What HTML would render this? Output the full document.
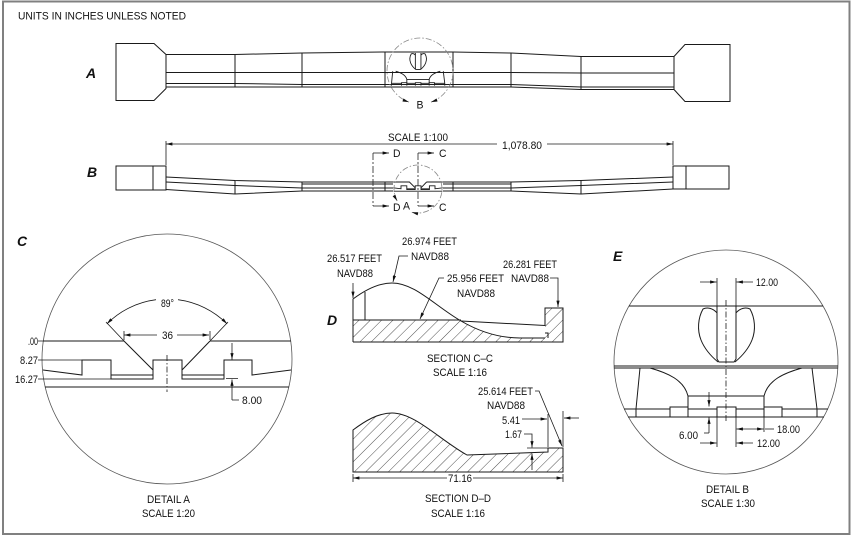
<!DOCTYPE html>
<html><head><meta charset="utf-8"><style>
html,body{margin:0;padding:0;background:#fff;}
svg{display:block;}
text{font-family:"Liberation Sans","Liberation Sans Narrow",sans-serif;font-size:11px;fill:#111;}
.lbl{font-weight:bold;font-style:italic;font-size:14px;}
</style></head><body>
<svg width="852" height="537" viewBox="0 0 852 537" xmlns="http://www.w3.org/2000/svg">
<defs>
<marker id="ah" viewBox="0 0 8 4" refX="8" refY="2" markerWidth="7" markerHeight="3.2" markerUnits="userSpaceOnUse" orient="auto-start-reverse"><path d="M0,0L8,2L0,4z" fill="#111"/></marker>
<pattern id="hatch" width="8" height="8" patternUnits="userSpaceOnUse" patternTransform="rotate(45)"><line x1="0" y1="0" x2="0" y2="8" stroke="#222" stroke-width="0.8"/></pattern>
<g id="dbi" fill="none">
 <path d="M717,306 L717,359 L719,362 L734,362 L736,359 L736,306"/>
 <path d="M717,313 C713,308 707,307 703,309 C698,318 697,330 701,340 C705,350 712,357 718,362"/>
 <path d="M736,313 C740,308 746,307 750,309 C755,318 756,330 752,340 C748,350 741,357 735,362"/>
 <path d="M640,368 L636,409 L636,417"/>
 <path d="M812,368 L817,409 L817,417"/>
 <path d="M650,368 C668,373 684,380 688,396 L688,409"/>
 <path d="M802,368 C784,373 768,380 764,396 L764,409"/>
 <path d="M688,396 L764,396"/>
 <path d="M670,417 V407 H688 V417 M717,417 V407 H736 V417 M764,417 V407 H782 V417"/>
 <path d="M636,409 H670 M688,409 H717 M736,409 H764 M782,409 H817"/>
</g>
<g id="dai" fill="none">
 <path d="M43,341 H124 L153,370 M210,341 H291 M210,341 L182,370"/>
 <path d="M43,370 L82,375 V360 H111 V379 H153 V360 H182 V379 H224 V360 H252 V375 L291,370"/>
 <path d="M111,375 H153 M182,375 H224"/>
 <path d="M45,387 H289"/>
</g>
</defs>

<!-- frame -->
<rect x="3" y="1.5" width="846.5" height="532.5" fill="none" stroke="#808080" stroke-width="2"/>

<text x="18" y="19.5" textLength="168" lengthAdjust="spacingAndGlyphs">UNITS IN INCHES UNLESS NOTED</text>

<!-- ================= VIEW A ================= -->
<text class="lbl" x="86" y="78">A</text>
<g fill="none" stroke="#1a1a1a" stroke-width="1">
 <path d="M116,43.5 L154,43.5 L166,54.5 L166,88.5 L154,100.5 L116,100.5 Z"/>
 <path d="M674,56.5 L685,44.5 L730,44.5 L730,101.5 L685,101.5 L674,89.5 Z"/>
 <path d="M166,54.5 L235,54.5 L302,53 L385,52 L453,52 L511,53 L581,56.5 L674,56.5"/>
 <path d="M166,72.5 L235,72.5 L302,72.5 L511,72.5 L581,73 L674,73"/>
 <path d="M166,83.5 L235,83.5 L302,84.5 L511,84.5 L581,87 L674,87"/>
 <path d="M166,87 L235,87 L302,87 L511,87 L581,89.5 L674,89.5"/>
 <path d="M235,54.5 V87 M302,53 V87 M385,52 V87 M453,52 V87 M511,53 V87 M581,56.5 V89.5"/>
</g>
<use href="#dbi" transform="translate(418,53) scale(0.294) translate(-726,-306)" stroke="#1a1a1a" stroke-width="3"/>
<path d="M431,102.1 A33,33 0 1 0 409,102.1" fill="none" stroke="#888" stroke-width="0.8" stroke-dasharray="6 2 1.5 2" marker-start="url(#ah)" marker-end="url(#ah)"/>
<text x="416.5" y="108.5" textLength="7" lengthAdjust="spacingAndGlyphs">B</text>

<!-- ================= VIEW B ================= -->
<text class="lbl" x="87" y="177">B</text>
<text x="388" y="141" textLength="60" lengthAdjust="spacingAndGlyphs">SCALE 1:100</text>
<g fill="none" stroke="#1a1a1a" stroke-width="0.8">
 <path d="M166,141 V165 M673,141 V165"/>
 <path d="M166,144 H497" marker-start="url(#ah)"/>
 <path d="M547,144 H673" marker-end="url(#ah)"/>
</g>
<text x="502" y="149" textLength="40" lengthAdjust="spacingAndGlyphs">1,078.80</text>
<g fill="none" stroke="#1a1a1a" stroke-width="1">
 <rect x="116" y="166" width="50" height="24"/>
 <path d="M153,166 V190"/>
 <rect x="673" y="166" width="56" height="23"/>
 <path d="M686,166 V189"/>
 <path d="M166,177 L235,180.5 L302,182 L393,182 M443,182 L511,182 L581,180.5 L673,177"/>
 <path d="M166,182 L235,185.5 L302,188 L393,188 M443,188 L511,188 L581,185.5 L673,182"/>
 <path d="M302,184 L393,184 M443,184 L511,184"/>
 <path d="M166,189.5 L235,194 L302,191 L393,191 M443,191 L511,191 L581,194 L673,189"/>
 <path d="M235,180.5 V194 M302,182 V191 M385,182 V191 M453,182 V191 M511,182 V191 M581,180.5 V194"/>
</g>
<use href="#dai" transform="translate(418,182) scale(0.2) translate(-167,-341)" stroke="#1a1a1a" stroke-width="4.5"/>
<path d="M411.8,212.2 A24,24 0 1 0 397.2,201" fill="none" stroke="#888" stroke-width="0.8" stroke-dasharray="6 2 1.5 2" marker-start="url(#ah)" marker-end="url(#ah)"/>
<text x="403" y="209.5" textLength="7" lengthAdjust="spacingAndGlyphs">A</text>
<g fill="none" stroke="#222" stroke-width="0.8">
 <path d="M373,153 V206 M418,153 V206" stroke-dasharray="7 2 2 2"/>
 <path d="M373,153 H389" marker-end="url(#ah)"/>
 <path d="M373,206 H389" marker-end="url(#ah)"/>
 <path d="M418,153 H434" marker-end="url(#ah)"/>
 <path d="M418,206 H434" marker-end="url(#ah)"/>
</g>
<text x="393" y="157" textLength="7.5" lengthAdjust="spacingAndGlyphs">D</text>
<text x="439" y="157" textLength="7.5" lengthAdjust="spacingAndGlyphs">C</text>
<text x="393" y="211" textLength="7.5" lengthAdjust="spacingAndGlyphs">D</text>
<text x="439" y="211" textLength="7.5" lengthAdjust="spacingAndGlyphs">C</text>

<!-- ================= DETAIL A (C) ================= -->
<text class="lbl" x="17" y="246">C</text>
<circle cx="167" cy="359" r="125" fill="none" stroke="#555" stroke-width="0.8"/>
<g stroke="#1a1a1a" stroke-width="1"><use href="#dai"/></g>
<g fill="none" stroke="#1a1a1a" stroke-width="0.8">
 <path d="M106,322 L124,341 M228,322 L210,341"/>
 <path d="M106.9,323.9 A85,85 0 0 1 156,299.7" marker-start="url(#ah)"/>
 <path d="M178,299.7 A85,85 0 0 1 227.1,323.9" marker-end="url(#ah)"/>
 <path d="M124,331 V340 M210,331 V340"/>
 <path d="M124,335 H157" marker-start="url(#ah)"/>
 <path d="M177,335 H209" marker-end="url(#ah)"/>
 <path d="M38,341 H43 M38,360 H82 M38,379 H111"/>
 <path d="M167,355 V392" stroke-dasharray="6 2 1.5 2"/>
 <path d="M232,343 V359.5" marker-end="url(#ah)"/>
 <path d="M232,400 V379.5" marker-end="url(#ah)"/>
 <path d="M232,400 H239 M226,378.5 H238"/>
</g>
<text x="161" y="307" textLength="13" lengthAdjust="spacingAndGlyphs">89°</text>
<text x="162" y="339" textLength="11" lengthAdjust="spacingAndGlyphs">36</text>
<text x="28" y="345" textLength="10" lengthAdjust="spacingAndGlyphs">.00</text>
<text x="20" y="364" textLength="18" lengthAdjust="spacingAndGlyphs">8.27</text>
<text x="15" y="383" textLength="23" lengthAdjust="spacingAndGlyphs">16.27</text>
<text x="242" y="404" textLength="20" lengthAdjust="spacingAndGlyphs">8.00</text>
<text x="147" y="503" textLength="43" lengthAdjust="spacingAndGlyphs">DETAIL A</text>
<text x="142" y="517" textLength="53" lengthAdjust="spacingAndGlyphs">SCALE 1:20</text>

<!-- ================= SECTION C-C (D) ================= -->
<text class="lbl" x="327" y="325">D</text>
<path d="M353,320 L461,320 C480,332 500,338 520,338 L545,338 L545,308 L563,308 L563,342 L353,342 Z" fill="url(#hatch)" stroke="none"/>
<g fill="none" stroke="#1a1a1a" stroke-width="1">
 <path d="M353,342 V299 C365,290 378,283 392,283 C415,283 435,306 461,321 C480,332 500,338 520,338 H545"/>
 <path d="M353,320 H461"/>
 <path d="M365,292 V320"/>
 <path d="M461,321 L545,325.5 V308 H563 V342 H353"/>
 <path d="M545,333 h3 v5"/>
</g>
<g fill="none" stroke="#1a1a1a" stroke-width="0.8">
 <path d="M353,283 V298" marker-end="url(#ah)"/>
 <path d="M408,256 H399 L393,282" marker-end="url(#ah)"/>
 <path d="M444,278 H439 L420,319" marker-end="url(#ah)"/>
 <path d="M550,278 H558 V307" marker-end="url(#ah)"/>
</g>
<text x="327" y="262" textLength="55" lengthAdjust="spacingAndGlyphs">26.517 FEET</text>
<text x="337" y="277" textLength="36" lengthAdjust="spacingAndGlyphs">NAVD88</text>
<text x="402" y="245" textLength="55" lengthAdjust="spacingAndGlyphs">26.974 FEET</text>
<text x="411" y="260" textLength="38" lengthAdjust="spacingAndGlyphs">NAVD88</text>
<text x="447" y="282" textLength="57" lengthAdjust="spacingAndGlyphs">25.956 FEET</text>
<text x="457" y="297" textLength="38" lengthAdjust="spacingAndGlyphs">NAVD88</text>
<text x="503" y="268" textLength="54" lengthAdjust="spacingAndGlyphs">26.281 FEET</text>
<text x="511" y="282" textLength="38" lengthAdjust="spacingAndGlyphs">NAVD88</text>
<text x="427" y="362" textLength="66" lengthAdjust="spacingAndGlyphs">SECTION C–C</text>
<text x="433" y="376" textLength="54" lengthAdjust="spacingAndGlyphs">SCALE 1:16</text>

<!-- ================= SECTION D-D ================= -->
<path d="M353,472 V430 C365,421 378,413 392,413 C415,413 440,440 467,455 L548,452 V448 H563 V472 Z" fill="url(#hatch)" stroke="#1a1a1a" stroke-width="1"/>
<g fill="none" stroke="#1a1a1a" stroke-width="0.8">
 <path d="M353,474 V482 M563,474 V482"/>
 <path d="M353,478 H447" marker-start="url(#ah)"/>
 <path d="M473,478 H563" marker-end="url(#ah)"/>
 <path d="M535,391 H539 L562,446" marker-end="url(#ah)"/>
 <path d="M522,419 H547" marker-end="url(#ah)"/>
 <path d="M548,414 V447 M563,411 V447"/>
 <path d="M579,418 H564" marker-end="url(#ah)"/>
 <path d="M524,434 H532 V447.5" marker-end="url(#ah)"/>
 <path d="M532,470 V453.5" marker-end="url(#ah)"/>
 <path d="M527,448 H548"/>
</g>
<text x="478" y="395" textLength="55" lengthAdjust="spacingAndGlyphs">25.614 FEET</text>
<text x="487" y="409" textLength="38" lengthAdjust="spacingAndGlyphs">NAVD88</text>
<text x="502" y="424" textLength="18" lengthAdjust="spacingAndGlyphs">5.41</text>
<text x="505" y="438" textLength="17" lengthAdjust="spacingAndGlyphs">1.67</text>
<text x="448" y="482" textLength="24" lengthAdjust="spacingAndGlyphs">71.16</text>
<text x="425" y="502" textLength="66" lengthAdjust="spacingAndGlyphs">SECTION D–D</text>
<text x="431" y="517" textLength="54" lengthAdjust="spacingAndGlyphs">SCALE 1:16</text>

<!-- ================= DETAIL B (E) ================= -->
<text class="lbl" x="613" y="261">E</text>
<circle cx="726" cy="362" r="112" fill="none" stroke="#555" stroke-width="0.8"/>
<g fill="none" stroke="#1a1a1a" stroke-width="1">
 <path d="M629,306 H823"/>
 <path d="M614,366 H838 M614,368 H838"/>
 <path d="M624,409 H636 M817,409 H828"/>
 <path d="M628,417 H824"/>
</g>
<g stroke="#1a1a1a" stroke-width="1"><use href="#dbi"/></g>
<g fill="none" stroke="#1a1a1a" stroke-width="0.8">
 <path d="M726,300 V422" stroke-dasharray="6 2 1.5 2"/>
 <path d="M717,278 V306 M736,278 V306"/>
 <path d="M700,282 H716.5" marker-end="url(#ah)"/>
 <path d="M753,282 H736.5" marker-end="url(#ah)"/>
 <path d="M709,392 V406.5" marker-end="url(#ah)"/>
 <path d="M709,433 V417.5" marker-end="url(#ah)"/>
 <path d="M709,433 H704"/>
 <path d="M736,417 V447 M764,417 V432 M717,417 V447"/>
 <path d="M736.5,429 H763.5" marker-start="url(#ah)" marker-end="url(#ah)"/>
 <path d="M765,429 H774"/>
 <path d="M700,443 H716.5" marker-end="url(#ah)"/>
 <path d="M753,443 H736.5" marker-end="url(#ah)"/>
</g>
<text x="756" y="286" textLength="22" lengthAdjust="spacingAndGlyphs">12.00</text>
<text x="679" y="439" textLength="19" lengthAdjust="spacingAndGlyphs">6.00</text>
<text x="777" y="433" textLength="23" lengthAdjust="spacingAndGlyphs">18.00</text>
<text x="757" y="447" textLength="23" lengthAdjust="spacingAndGlyphs">12.00</text>
<text x="706" y="493" textLength="43" lengthAdjust="spacingAndGlyphs">DETAIL B</text>
<text x="701" y="507" textLength="54" lengthAdjust="spacingAndGlyphs">SCALE 1:30</text>
</svg>
</body></html>
